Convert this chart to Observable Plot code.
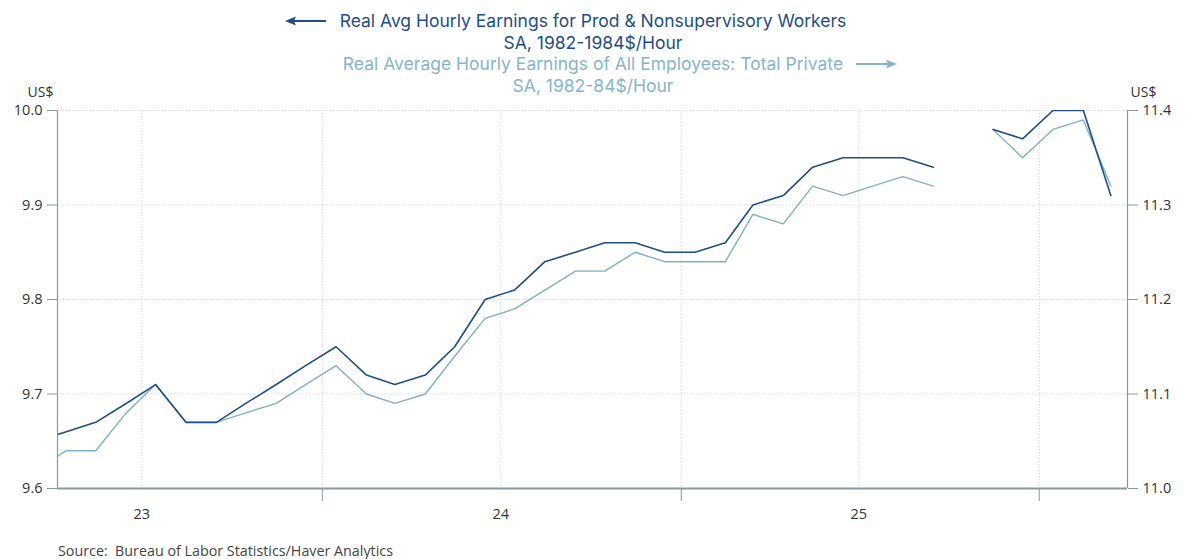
<!DOCTYPE html>
<html>
<head>
<meta charset="utf-8">
<script src="https://cdn.jsdelivr.net/npm/d3@7"></script>
<script src="https://cdn.jsdelivr.net/npm/@observablehq/plot@0.6"></script>
<style>
  body { margin: 0; background: #fff; font-family: "Open Sans", sans-serif; }
  #wrap { position: relative; width: 1200px; height: 559px; overflow: hidden; background: #fff; }
  .l { position: absolute; left: 0; width: 1186px; text-align: center; white-space: nowrap; line-height: 21px; font-family: Inter, "Open Sans", sans-serif; font-size: 17.5px; z-index: 2; }
  .dark { color: #1d4e85; }
  .light { color: #86b4c9; }
  .t { position: relative; }
  .t svg { position: absolute; top: 6px; }
  #chart { position: absolute; left: 0; top: 80px; z-index: 1; }
  #source { position: absolute; left: 58px; top: 541px; font-size: 14.3px; color: #444; white-space: nowrap; }
</style>
</head>
<body>
<div id="wrap">
  <div class="l dark" style="top:10px"><span class="t">Real Avg Hourly Earnings for Prod &amp; Nonsupervisory Workers<svg width="42" height="10" style="left:-55px" viewBox="0 0 42 10"><line x1="8" y1="5" x2="41" y2="5" stroke="#1d4e85" stroke-width="2"/><path d="M0,5 L11,0.5 L9,5 L11,9.5 Z" fill="#1d4e85"/></svg></span></div>
  <div class="l dark" style="top:31.5px">SA, 1982-1984$/Hour</div>
  <div class="l light" style="top:53px"><span class="t">Real Average Hourly Earnings of All Employees: Total Private<svg width="42" height="10" style="right:-54px" viewBox="0 0 42 10"><line x1="1" y1="5" x2="34" y2="5" stroke="#86b4c9" stroke-width="2"/><path d="M42,5 L31,0.5 L33,5 L31,9.5 Z" fill="#86b4c9"/></svg></span></div>
  <div class="l light" style="top:74.5px">SA, 1982-84$/Hour</div>
  <div id="chart"></div>
  <div id="source">Source:&nbsp; Bureau of Labor Statistics/Haver Analytics</div>
</div>
<script>
// Months (mid-month points), Mar 2023 – Mar 2026
const months = [
  "2023-03","2023-04","2023-05","2023-06","2023-07","2023-08","2023-09","2023-10","2023-11","2023-12",
  "2024-01","2024-02","2024-03","2024-04","2024-05","2024-06","2024-07","2024-08","2024-09","2024-10","2024-11","2024-12",
  "2025-01","2025-02","2025-03","2025-04","2025-05","2025-06","2025-07","2025-08","2025-09","2025-10","2025-11","2025-12",
  "2026-01","2026-02","2026-03"
];
// Real Avg Hourly Earnings, Prod & Nonsupervisory Workers (left axis, 1982-1984$/Hour)
const prodWorkers = [
  9.65, 9.66, 9.67, 9.69, 9.71, 9.67, 9.67, 9.69, 9.71, 9.73,
  9.75, 9.72, 9.71, 9.72, 9.75, 9.80, 9.81, 9.84, 9.85, 9.86, 9.86, 9.85,
  9.85, 9.86, 9.90, 9.91, 9.94, 9.95, 9.95, 9.95, 9.94, null, 9.98, 9.97,
  10.00, 10.00, 9.91
];
// Real Average Hourly Earnings, All Employees: Total Private (right axis, 1982-84$/Hour)
const allEmployees = [
  11.02, 11.04, 11.04, 11.08, 11.11, 11.07, 11.07, 11.08, 11.09, 11.11,
  11.13, 11.10, 11.09, 11.10, 11.14, 11.18, 11.19, 11.21, 11.23, 11.23, 11.25, 11.24,
  11.24, 11.24, 11.29, 11.28, 11.32, 11.31, 11.32, 11.33, 11.32, null, 11.38, 11.35,
  11.38, 11.39, 11.32
];
const leftTicks = [9.6, 9.7, 9.8, 9.9, 10.0];
const rightTicks = [11.0, 11.1, 11.2, 11.3, 11.4];
const yearLabels = ["2023-07-01", "2024-07-01", "2025-07-01"];
const yearStarts = ["2024-01-01", "2025-01-01", "2026-01-01"];
const xDomain = ["2023-04-06", "2026-04-01"];

const DARK = "#1d4e85";
const LIGHT = "#7fb0c6";
const AXIS = "#8796a8";
const GRID = "#d6d9dd";

const toDate = s => new Date(s.length === 7 ? s + "-15T00:00:00Z" : s + "T00:00:00Z");
const offset = rightTicks[0] - leftTicks[0];
const data = months.map((m, i) => ({date: toDate(m), prod: prodWorkers[i], all: allEmployees[i]}));
const domain = xDomain.map(toDate);
const gridDates = [...yearLabels, ...yearStarts].map(toDate);

const chart = Plot.plot({
  width: 1200,
  height: 460,
  marginTop: 30,
  marginBottom: 52,
  marginLeft: 57,
  marginRight: 73,
  style: {fontFamily: "'Open Sans', sans-serif", fontSize: "14px", background: "transparent", color: "#333", overflow: "visible"},
  x: {type: "utc", domain},
  y: {domain: [leftTicks[0], leftTicks[leftTicks.length - 1]]},
  marks: [
    Plot.ruleY(leftTicks.slice(1), {stroke: GRID, strokeDasharray: "1.5,1.5"}),
    Plot.ruleX(gridDates, {stroke: GRID, strokeDasharray: "1.5,1.5"}),
    Plot.lineY(data, {x: "date", y: d => d.all == null ? NaN : d.all - offset, stroke: LIGHT, strokeWidth: 1.4, clip: true}),
    Plot.lineY(data, {x: "date", y: d => d.prod == null ? NaN : d.prod, stroke: DARK, strokeWidth: 1.6, clip: true}),
    Plot.ruleX(domain, {stroke: AXIS, strokeWidth: 1.2}),
    Plot.ruleY([leftTicks[0]], {stroke: AXIS, strokeWidth: 1.8}),
    Plot.axisY(leftTicks, {anchor: "left", tickSize: 10, tickPadding: 5, tickFormat: d3.format(".1f"), stroke: AXIS, color: "#333", fill: "#333", label: null, fontSize: 14.5}),
    Plot.axisY(rightTicks.map(v => v - offset), {anchor: "right", tickSize: 10, tickPadding: 5, tickFormat: d => d3.format(".1f")(d + offset), stroke: AXIS, color: "#333", fill: "#333", label: null, fontSize: 14.5}),
    Plot.axisX(yearStarts.map(toDate), {tickSize: 13, tickFormat: () => "", stroke: AXIS, label: null}),
    Plot.axisX(yearLabels.map(toDate), {tickSize: 0, tickPadding: 20, tickFormat: d3.utcFormat("%y"), color: "#333", fill: "#333", label: null, fontSize: 14.5}),
    Plot.text(["US$"], {text: d => d, frameAnchor: "top-left", textAnchor: "end", dx: -4, dy: -23, fill: "#333", fontSize: 14}),
    Plot.text(["US$"], {text: d => d, frameAnchor: "top-right", textAnchor: "start", dx: 3, dy: -23, fill: "#333", fontSize: 14})
  ]
});
document.getElementById("chart").appendChild(chart);
</script>
</body>
</html>
